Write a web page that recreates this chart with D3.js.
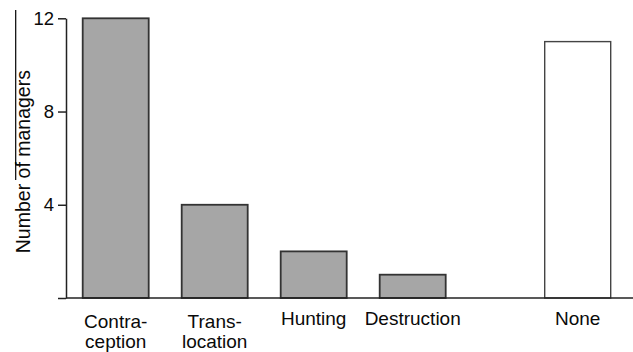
<!DOCTYPE html>
<html>
<head>
<meta charset="utf-8">
<script src="https://cdn.jsdelivr.net/npm/d3@7"></script>
<style>
  html, body { margin: 0; padding: 0; background: #fff; }
  svg { display: block; font-family: "Liberation Sans", Arial, Helvetica, sans-serif; }
</style>
</head>
<body>
<svg id="chart" width="633" height="352"></svg>
<script>
// Management methods used, and the number of managers reporting each
const categories = ["Contraception", "Translocation", "Hunting", "Destruction", "None"];
const labelLines = [["Contra-", "ception"], ["Trans-", "location"], ["Hunting"], ["Destruction"], ["None"]];
const managers = [12, 4, 2, 1, 11];
const yTicks = [0, 4, 8, 12];
const yTickLabels = ["", "4", "8", "12"];
const yTitle = "Number of managers";

const svg = d3.select("#chart");
const W = 633;
const axisX = 66, plotTop = 18.3, plotBottom = 298;

const y = d3.scaleLinear().domain([0, 12]).range([plotBottom, plotTop]);

// Bars for the methods sit on a regular band; "None" is set apart by an extra gap
const x = d3.scaleBand().domain(categories).range([82.7, 544.7])
  .paddingInner(1 / 3).paddingOuter(0).align(0);
const extraGap = x.step() * 2 / 3;
const xPos = c => x(c) + (c === "None" ? extraGap : 0);

const data = categories.map((c, i) => ({ cat: c, value: managers[i], lines: labelLines[i] }));

// Bars
svg.append("g").selectAll("rect").data(data).join("rect")
  .attr("x", d => xPos(d.cat))
  .attr("y", d => y(d.value))
  .attr("width", x.bandwidth())
  .attr("height", d => y(0) - y(d.value))
  .attr("fill", d => d.cat === "None" ? "#ffffff" : "#a6a6a6")
  .attr("stroke", d => d.cat === "None" ? "#444" : "#333")
  .attr("stroke-width", d => d.cat === "None" ? 1.4 : 1.8);

// Y axis
const yAxis = d3.axisLeft(y).tickValues(yTicks)
  .tickFormat((d, i) => yTickLabels[i]).tickSize(8).tickPadding(4).tickSizeOuter(0);
const gy = svg.append("g").attr("transform", `translate(${axisX},0)`).call(yAxis);
gy.select(".domain").attr("stroke", "#222").attr("stroke-width", 1.5);
gy.selectAll(".tick line").attr("stroke", "#222").attr("stroke-width", 1.5);
gy.selectAll(".tick text").attr("fill", "#0a0a0a").style("font-size", "18.5px")
  .style("font-family", "'Liberation Sans', Arial, sans-serif");

// Baseline running across the plot
svg.append("line")
  .attr("x1", axisX).attr("x2", W)
  .attr("y1", y(0)).attr("y2", y(0))
  .attr("stroke", "#222").attr("stroke-width", 1.5);

// Category labels (hyphenated names broken over two lines)
const lab = svg.append("g").selectAll("text").data(data).join("text")
  .attr("text-anchor", "middle")
  .attr("fill", "#0a0a0a")
  .style("font-size", "19px")
  .attr("transform", d => `translate(${xPos(d.cat) + x.bandwidth() / 2},${d.lines.length > 1 ? 328 : 325})`);
lab.selectAll("tspan").data(d => d.lines).join("tspan")
  .attr("x", 0)
  .attr("dy", (d, i) => i === 0 ? 0 : 20)
  .text(d => d);

// Y axis title
svg.append("text")
  .attr("transform", `translate(29.5,${(plotTop + plotBottom) / 2 + 3.5}) rotate(-90)`)
  .attr("text-anchor", "middle")
  .attr("fill", "#0a0a0a")
  .style("font-size", "19.5px")
  .text(yTitle);

// Thin rule at the left margin of the panel
svg.append("line")
  .attr("x1", 15.7).attr("x2", 15.7)
  .attr("y1", 10).attr("y2", 180)
  .attr("stroke", "#000").attr("stroke-width", 1.2);
</script>
</body>
</html>
